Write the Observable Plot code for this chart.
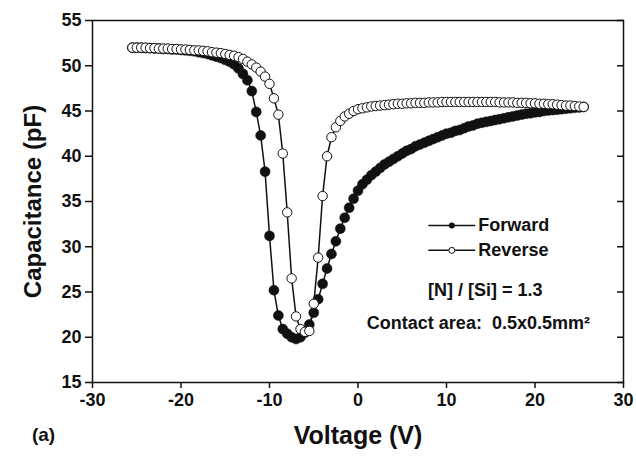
<!DOCTYPE html>
<html>
<head>
<meta charset="utf-8">
<script src="https://cdn.jsdelivr.net/npm/d3@7"></script>
<script src="https://cdn.jsdelivr.net/npm/@observablehq/plot@0.6"></script>
<style>
  html, body { margin: 0; padding: 0; background: #fff; }
  #chart svg { display: block; }
</style>
</head>
<body>
<div id="chart"></div>
<script>
const voltage = [
  -25.5, -25, -24.5, -24, -23.5, -23, -22.5, -22, -21.5, -21, -20.5, -20,
  -19.5, -19, -18.5, -18, -17.5, -17, -16.5, -16, -15.5, -15, -14.5, -14,
  -13.5, -13, -12.5, -12, -11.5, -11, -10.5, -10, -9.5, -9, -8.5, -8,
  -7.5, -7, -6.5, -6, -5.5, -5, -4.5, -4, -3.5, -3, -2.5, -2,
  -1.5, -1, -0.5, 0, 0.5, 1, 1.5, 2, 2.5, 3, 3.5, 4,
  4.5, 5, 5.5, 6, 6.5, 7, 7.5, 8, 8.5, 9, 9.5, 10,
  10.5, 11, 11.5, 12, 12.5, 13, 13.5, 14, 14.5, 15, 15.5, 16,
  16.5, 17, 17.5, 18, 18.5, 19, 19.5, 20, 20.5, 21, 21.5, 22,
  22.5, 23, 23.5, 24, 24.5, 25, 25.5
];
const forward = [
  52.0, 52.0, 52.0, 51.95, 51.95, 51.9, 51.9, 51.85, 51.85, 51.8, 51.8, 51.75,
  51.7, 51.65, 51.6, 51.5, 51.4, 51.3, 51.15, 51.0, 50.85, 50.65, 50.45, 50.15,
  49.7, 49.1, 48.4, 47.2, 44.9, 42.3, 38.3, 31.2, 25.2, 22.4, 20.9, 20.4,
  20.0, 19.8, 20.0, 20.5, 21.4, 22.7, 24.2, 25.9, 27.6, 29.2, 30.6, 32.0,
  33.2, 34.3, 35.3, 36.2, 36.9, 37.4, 37.9, 38.3, 38.7, 39.1, 39.4, 39.7,
  40.0, 40.3, 40.6, 40.8, 41.1, 41.3, 41.5, 41.7, 41.9, 42.1, 42.3, 42.5,
  42.6, 42.8, 42.9, 43.1, 43.3, 43.4, 43.6, 43.7, 43.8, 43.9, 44.0, 44.1,
  44.2, 44.3, 44.4, 44.5, 44.6, 44.7, 44.75, 44.85, 44.9, 45.0, 45.05, 45.1,
  45.15, 45.2, 45.25, 45.3, 45.35, 45.4, 45.45
];
const reverse = [
  52.0, 52.0, 52.0, 52.0, 51.95, 51.95, 51.9, 51.9, 51.9, 51.85, 51.85, 51.8,
  51.8, 51.75, 51.7, 51.7, 51.65, 51.6, 51.5, 51.45, 51.4, 51.3, 51.2, 51.1,
  50.95, 50.75, 50.45, 50.15, 49.8, 49.35, 48.8, 48.0, 46.4, 44.6, 40.3, 33.8,
  26.5, 22.3, 20.9, 20.6, 20.7, 23.7, 28.8, 35.6, 40.0, 42.1, 43.2, 43.9,
  44.4, 44.7, 45.0, 45.2, 45.3, 45.4, 45.5, 45.55, 45.6, 45.65, 45.7, 45.75,
  45.8, 45.8, 45.85, 45.85, 45.9, 45.9, 45.9, 45.95, 45.95, 45.95, 46.0, 46.0,
  46.0, 46.0, 46.0, 46.0, 46.0, 46.0, 46.0, 46.0, 46.0, 46.0, 46.0, 45.95,
  45.95, 45.95, 45.95, 45.9, 45.9, 45.9, 45.85, 45.85, 45.8, 45.8, 45.75, 45.75,
  45.7, 45.65, 45.6, 45.6, 45.55, 45.5, 45.45
];
const xTicks = [-30, -20, -10, 0, 10, 20, 30];
const yTicks = [15, 20, 25, 30, 35, 40, 45, 50, 55];
const seriesNames = ["Forward", "Reverse"];
const xTitle = "Voltage (V)";
const yTitle = "Capacitance (pF)";
const panelLabel = "(a)";
const ratioNote = "[N] / [Si] = 1.3";
const areaNote = "Contact area:  0.5x0.5mm²";

const fwd = voltage.map((v, i) => ({v, c: forward[i]}));
const rev = voltage.map((v, i) => ({v, c: reverse[i]}));

const font = "'Liberation Sans', Arial, Helvetica, sans-serif";

const chart = Plot.plot({
  width: 636,
  height: 456,
  marginLeft: 92,
  marginRight: 13,
  marginTop: 20,
  marginBottom: 74,
  x: {domain: [-30, 30]},
  y: {domain: [15, 55]},
  style: {fontFamily: font, fontWeight: "bold", color: "#111", background: "white"},
  marks: [
    Plot.axisX({ticks: xTicks, tickSize: 6, tickPadding: 5, fontSize: 18, tickFormat: d => String(d), label: null, strokeWidth: 1.5}),
    Plot.axisY({ticks: yTicks, tickSize: 7, tickPadding: 4, fontSize: 18, tickFormat: d => String(d), label: null, strokeWidth: 1.5}),
    Plot.axisY({anchor: "right", ticks: yTicks, tickSize: 7, dx: -7, tickFormat: () => "", label: null, strokeWidth: 1.5}),
    Plot.frame({stroke: "#111", strokeWidth: 1.5}),
    Plot.line(fwd, {x: "v", y: "c", stroke: "#111", strokeWidth: 1.5}),
    Plot.dot(fwd, {x: "v", y: "c", r: 5, fill: "#111", stroke: "#111", strokeWidth: 0.5}),
    Plot.line(rev, {x: "v", y: "c", stroke: "#111", strokeWidth: 1.5}),
    Plot.dot(rev, {x: "v", y: "c", r: 4.7, fill: "white", stroke: "#111", strokeWidth: 1}),
    // legend
    Plot.ruleY([32.35], {x1: 8.0, x2: 13.3, stroke: "#111", strokeWidth: 1.5}),
    Plot.dot([10.6], {x: d => d, y: () => 32.35, r: 3, fill: "#111"}),
    Plot.ruleY([29.6], {x1: 8.0, x2: 13.3, stroke: "#111", strokeWidth: 1.5}),
    Plot.dot([10.6], {x: d => d, y: () => 29.6, r: 3, fill: "white", stroke: "#111", strokeWidth: 1}),
    Plot.text([seriesNames[0]], {x: () => 13.6, y: () => 32.35, textAnchor: "start", fontSize: 18, fontWeight: "bold", fill: "#111"}),
    Plot.text([seriesNames[1]], {x: () => 13.6, y: () => 29.6, textAnchor: "start", fontSize: 18, fontWeight: "bold", fill: "#111"}),
    Plot.text([ratioNote], {x: () => 7.9, y: () => 25.2, textAnchor: "start", fontSize: 18, fontWeight: "bold", fill: "#111"}),
    Plot.text([areaNote], {x: () => 1.0, y: () => 21.6, textAnchor: "start", fontSize: 18, fontWeight: "bold", fill: "#111"}),
    // titles
    Plot.text([xTitle], {frameAnchor: "bottom", textAnchor: "middle", dy: 61, fontSize: 25, fontWeight: "bold", fill: "#111"}),
    Plot.text([panelLabel], {frameAnchor: "bottom-left", textAnchor: "middle", dx: -49, dy: 58, fontSize: 19, fontWeight: "bold", fill: "#111"}),
    Plot.text([yTitle], {frameAnchor: "left", textAnchor: "middle", dx: -59, rotate: -90, fontSize: 24, fontWeight: "bold", fill: "#111"})
  ]
});
document.getElementById("chart").appendChild(chart);
</script>
</body>
</html>
